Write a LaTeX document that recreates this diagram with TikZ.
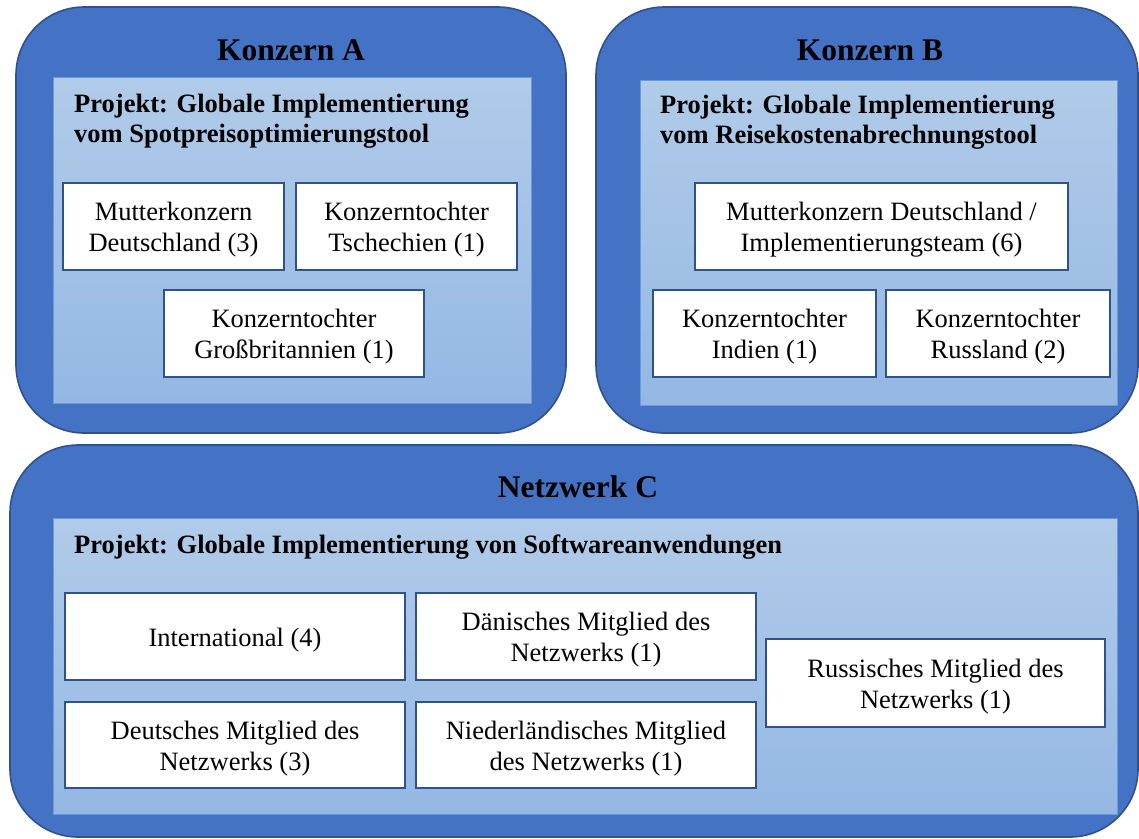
\documentclass[tikz,border=0pt]{standalone}
\usepackage{fontspec}
\setmainfont{Liberation Serif}
% centred lines of a box, lowered a little inside their frame
\newcommand{\boxlines}[1]{\raisebox{-3.5pt}[\height][\depth]{\begin{tabular}{@{}c@{}}#1\end{tabular}}}
\begin{document}
\definecolor{outerfill}{HTML}{4472C4}
\definecolor{outerline}{HTML}{2F528F}
\definecolor{paneltop}{HTML}{B1CBE9}
\definecolor{panelbot}{HTML}{94B8E3}
\definecolor{panelline}{HTML}{6A9BD8}
\begin{tikzpicture}[x=1pt,y=-1pt,
  outerbox/.style={fill=outerfill,draw=outerline,line width=1.6pt,rounded corners=68pt},
  panel/.style={top color=paneltop,bottom color=panelbot,draw=panelline,line width=1pt},
  item/.style={draw=outerline,fill=white,line width=2pt,inner sep=0pt,
    font=\fontsize{26.5}{31}\selectfont},
  grouptitle/.style={font=\bfseries\fontsize{31.5}{36}\selectfont},
  projtitle/.style={font=\bfseries\fontsize{26.5}{30}\selectfont,align=left,anchor=west,inner sep=0pt}]
\useasboundingbox (0,0) rectangle (1139,838);

% group frames
\draw[outerbox] (16,7) rectangle (566,433);
\draw[outerbox] (596,7) rectangle (1138,433);
\draw[outerbox] (10,445) rectangle (1138,837);

% project panels
\draw[panel] (53,77) rectangle (531,403);
\draw[panel] (640,80) rectangle (1117,405);
\draw[panel] (53,518) rectangle (1117,814);

% Konzern A
\node[grouptitle] (ta) at (291,50) {Konzern A};
\node[projtitle] (pa) at (74,121) {Projekt: Globale Implementierung\\vom Spotpreisoptimierungstool};
\node[item,minimum width=221pt,minimum height=87pt] (a1) at (173.5,226.5) {\boxlines{Mutterkonzern\\Deutschland (3)}};
\node[item,minimum width=221pt,minimum height=87pt] (a2) at (406.5,226.5) {\boxlines{Konzerntochter\\Tschechien (1)}};
\node[item,minimum width=260pt,minimum height=87pt] (a3) at (294,333.5) {\boxlines{Konzerntochter\\Großbritannien (1)}};

% Konzern B
\node[grouptitle] (tb) at (870,50) {Konzern B};
\node[projtitle] (pb) at (660,122) {Projekt: Globale Implementierung\\vom Reisekostenabrechnungstool};
\node[item,minimum width=373pt,minimum height=87pt] (b1) at (881.5,226.5) {\boxlines{Mutterkonzern Deutschland /\\Implementierungsteam (6)}};
\node[item,minimum width=223pt,minimum height=87pt] (b2) at (764.5,333.5) {\boxlines{Konzerntochter\\Indien (1)}};
\node[item,minimum width=224pt,minimum height=87pt] (b3) at (998,333.5) {\boxlines{Konzerntochter\\Russland (2)}};

% Netzwerk C
\node[grouptitle] (tc) at (578,487) {Netzwerk C};
\node[projtitle] (pc) at (74,547) {Projekt: Globale Implementierung von Softwareanwendungen};
\node[item,minimum width=340pt,minimum height=87pt] (c1) at (235,636.5) {\boxlines{International (4)}};
\node[item,minimum width=340pt,minimum height=87pt] (c2) at (586,636.5) {\boxlines{Dänisches Mitglied des\\Netzwerks (1)}};
\node[item,minimum width=340pt,minimum height=86pt] (c3) at (235,745) {\boxlines{Deutsches Mitglied des\\Netzwerks (3)}};
\node[item,minimum width=340pt,minimum height=86pt] (c4) at (586,745) {\boxlines{Niederländisches Mitglied\\des Netzwerks (1)}};
\node[item,minimum width=339pt,minimum height=88pt] (c5) at (935.5,683) {\boxlines{Russisches Mitglied des\\Netzwerks (1)}};
\end{tikzpicture}
\end{document}
